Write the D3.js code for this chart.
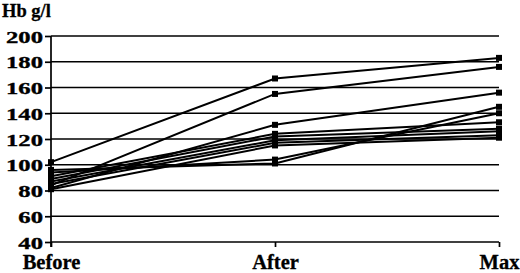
<!DOCTYPE html>
<html>
<head>
<meta charset="utf-8">
<script src="https://cdn.jsdelivr.net/npm/d3@7/dist/d3.min.js"></script>
<style>
  html, body { margin: 0; padding: 0; background: #fff; }
  svg { display: block; }
  text { font-family: "Liberation Serif", "Times New Roman", serif; font-weight: bold; fill: #000; }
</style>
</head>
<body>
<svg id="chart" width="520" height="273"></svg>
<script>
const categories = ["Before", "After", "Max"];
const hbBefore = [102, 84, 82, 96, 94, 91, 89, 87, 85, 81];
const hbAfter  = [167, 155, 131, 101, 104, 124, 122, 119, 117, 115];
const hbMax    = [183, 176, 156, 145, 140, 133, 128, 126, 123, 121];
const yTicks   = [40, 60, 80, 100, 120, 140, 160, 180, 200];
const yLabel   = "Hb g/l";

const series = hbBefore.map((b, i) => [b, hbAfter[i], hbMax[i]]);
const FONT = "Liberation Serif, Times New Roman, serif";

const svg = d3.select("#chart");
const x = d3.scalePoint().domain(categories).range([51, 499]);
const y = d3.scaleLinear().domain([40, 200]).range([242, 36]);

// gridlines
svg.append("g").selectAll("line").data(yTicks).join("line")
  .attr("x1", x(categories[0])).attr("x2", x(categories[categories.length - 1]))
  .attr("y1", d => y(d)).attr("y2", d => y(d))
  .attr("stroke", "#000").attr("stroke-width", 1.7);

// y axis
const yAxis = svg.append("g").attr("transform", `translate(${x(categories[0])},0)`)
  .call(d3.axisLeft(y).tickValues(yTicks).tickSize(6).tickSizeOuter(0).tickPadding(0))
  .attr("font-family", FONT);
yAxis.select(".domain").attr("stroke-width", 1.7).attr("d", `M0,${y(200)}V${y(40) + 5}`);
yAxis.selectAll(".tick line").attr("stroke-width", 1.7);
yAxis.selectAll(".tick text").attr("x", null).attr("dy", null)
  .style("font-size", "17px")
  .attr("stroke", "#000").attr("stroke-width", 0.35)
  .attr("text-anchor", "end")
  .attr("dominant-baseline", "central")
  .attr("transform", "translate(-8,0.5) scale(1.45,1)");

// x axis
const xAxis = svg.append("g").attr("transform", `translate(0,${y(40)})`)
  .call(d3.axisBottom(x).tickSize(5).tickSizeOuter(0).tickPadding(13))
  .attr("font-family", FONT);
xAxis.select(".domain").remove();
xAxis.selectAll(".tick line").attr("stroke-width", 1.7);
xAxis.selectAll(".tick text").style("font-size", "20.5px").attr("dy", null)
  .attr("stroke", "#000").attr("stroke-width", 0.3)
  .attr("dominant-baseline", "auto").attr("y", 26.5);

// lines
const line = d3.line().x((d, i) => x(categories[i])).y(d => y(d));
svg.append("g").selectAll("path").data(series).join("path")
  .attr("d", line).attr("fill", "none").attr("stroke", "#000").attr("stroke-width", 2);

// markers
const pts = series.flatMap(s => s.map((v, i) => ({ c: categories[i], v })));
svg.append("g").selectAll("rect").data(pts).join("rect")
  .attr("x", d => x(d.c) - 3).attr("y", d => y(d.v) - 3)
  .attr("width", 6).attr("height", 6).attr("fill", "#000");

// y label
svg.append("text").attr("x", 2).attr("y", 16.5).attr("font-family", FONT)
  .attr("stroke", "#000").attr("stroke-width", 0.3)
  .style("font-size", "18.5px").text(yLabel);
</script>
</body>
</html>
